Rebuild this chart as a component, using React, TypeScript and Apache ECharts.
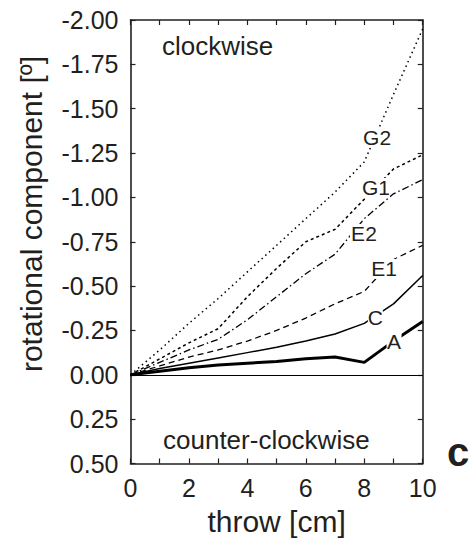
import React, { useEffect, useRef } from "react";
import * as echarts from "echarts";

// throw distance in cm
const throwCm = [0, 1, 2, 3, 4, 5, 6, 7, 8, 9, 10];

// rotational component in degrees (negative = clockwise)
const seriesA = [0, -0.02, -0.04, -0.055, -0.065, -0.075, -0.09, -0.1, -0.07, -0.19, -0.3];
const seriesC = [0, -0.035, -0.065, -0.095, -0.125, -0.155, -0.19, -0.23, -0.29, -0.4, -0.56];
const seriesE1 = [0, -0.05, -0.1, -0.14, -0.19, -0.25, -0.32, -0.4, -0.47, -0.65, -0.73];
const seriesE2 = [0, -0.07, -0.14, -0.2, -0.31, -0.44, -0.57, -0.68, -0.88, -1.02, -1.1];
const seriesG1 = [0, -0.09, -0.18, -0.26, -0.44, -0.6, -0.75, -0.82, -0.99, -1.16, -1.24];
const seriesG2 = [0, -0.14, -0.29, -0.43, -0.58, -0.73, -0.88, -1.03, -1.2, -1.58, -1.95];

// in-plot curve names and where they sit (x in cm, y in degrees)
const curveNames = ["G2", "G1", "E2", "E1", "C", "A"];
const curveNameX = [8.44, 8.4, 7.99, 8.68, 8.38, 9.02];
const curveNameY = [-1.338, -1.053, -0.794, -0.597, -0.323, -0.185];

const FONT = "'Liberation Sans', Arial, Helvetica, sans-serif";
const INK = "#231f20";

const pairs = (ys: number[]) => throwCm.map((x, i) => [x, ys[i]]);

export default function App() {
  const ref = useRef<HTMLDivElement>(null);

  useEffect(() => {
    if (!ref.current) return;
    const chart = echarts.init(ref.current, undefined, { renderer: "svg" });

    const axisLine = { show: true, onZero: false, lineStyle: { color: INK, width: 1.6 } };
    const axisTick = { show: true, inside: true, length: 5, lineStyle: { color: INK, width: 1.2 } };

    const lineSeries = (name: string, ys: number[], width: number, type: any) => ({
      name,
      type: "line",
      data: pairs(ys),
      showSymbol: false,
      symbol: "none",
      lineStyle: { color: "#000", width, type, cap: "butt" },
      z: 3,
    });

    chart.setOption({
      animation: false,
      textStyle: { fontFamily: FONT },
      grid: { left: 130.5, right: 49.3, top: 20, bottom: 80.5, containLabel: false },
      xAxis: [
        {
          type: "value",
          position: "bottom",
          min: 0,
          max: 10,
          interval: 1,
          axisLine,
          axisTick,
          splitLine: { show: false },
          axisLabel: {
            fontSize: 25,
            color: INK,
            margin: 12,
            fontFamily: FONT,
            formatter: (v: number) => (v % 2 === 0 ? String(v) : ""),
          },
          name: "throw [cm]",
          nameLocation: "middle",
          nameGap: 43,
          nameTextStyle: { fontSize: 30, color: INK, fontFamily: FONT },
        },
        {
          type: "value",
          position: "top",
          min: 0,
          max: 10,
          interval: 1,
          axisLine,
          axisTick,
          splitLine: { show: false },
          axisLabel: { show: false },
        },
      ],
      yAxis: [
        {
          type: "value",
          position: "left",
          min: -2,
          max: 0.5,
          interval: 0.25,
          inverse: true,
          axisLine,
          axisTick,
          splitLine: { show: false },
          axisLabel: {
            fontSize: 25,
            color: INK,
            margin: 12,
            fontFamily: FONT,
            formatter: (v: number) => (Math.abs(v) < 1e-9 ? "0.00" : v.toFixed(2)),
          },
        },
        {
          type: "value",
          position: "right",
          min: -2,
          max: 0.5,
          interval: 0.25,
          inverse: true,
          axisLine,
          axisTick,
          splitLine: { show: false },
          axisLabel: { show: false },
        },
      ],
      series: [
        {
          ...lineSeries("A", seriesA, 3, "solid"),
          markLine: {
            silent: true,
            symbol: "none",
            label: { show: false },
            lineStyle: { color: "#000", width: 1, type: "solid" },
            data: [{ yAxis: 0 }],
          },
        },
        lineSeries("C", seriesC, 1.5, "solid"),
        lineSeries("E1", seriesE1, 1.3, [6, 4]),
        lineSeries("E2", seriesE2, 1.3, [7, 3, 1.5, 3]),
        lineSeries("G1", seriesG1, 1.5, [3, 3]),
        lineSeries("G2", seriesG2, 1.5, [1.5, 3.5]),
        {
          name: "curve names",
          type: "scatter",
          z: 10,
          data: curveNames.map((n, i) => ({ name: n, value: [curveNameX[i], curveNameY[i]] })),
          symbol: "rect",
          symbolSize: (_v: any, p: any) => [p.name.length * 13 + 2, 20],
          itemStyle: { color: "#fff", opacity: 1 },
          label: {
            show: true,
            position: "inside",
            formatter: (p: any) => p.name,
            fontSize: 21,
            color: INK,
            fontFamily: FONT,
          },
          silent: true,
        },
      ],
      graphic: [
        {
          type: "text",
          x: 31,
          y: 214,
          rotation: Math.PI / 2,
          style: {
            text: "rotational component [º]",
            fontSize: 30,
            fontFamily: FONT,
            fill: INK,
            align: "center",
            verticalAlign: "middle",
          },
        },
        {
          type: "text",
          x: 162,
          y: 46,
          style: {
            text: "clockwise",
            fontSize: 26,
            fontFamily: FONT,
            fill: INK,
            align: "left",
            verticalAlign: "middle",
          },
        },
        {
          type: "text",
          x: 163,
          y: 440,
          style: {
            text: "counter-clockwise",
            fontSize: 26,
            fontFamily: FONT,
            fill: INK,
            align: "left",
            verticalAlign: "middle",
          },
        },
        {
          type: "text",
          x: 458,
          y: 452,
          style: {
            text: "c",
            fontSize: 40,
            fontWeight: "bold",
            fontFamily: FONT,
            fill: INK,
            align: "center",
            verticalAlign: "middle",
          },
        },
      ],
    });

    return () => chart.dispose();
  }, []);

  return (
    <div
      ref={ref}
      style={{ position: "fixed", left: 0, top: 0, width: 472, height: 544, background: "#fff" }}
    />
  );
}
